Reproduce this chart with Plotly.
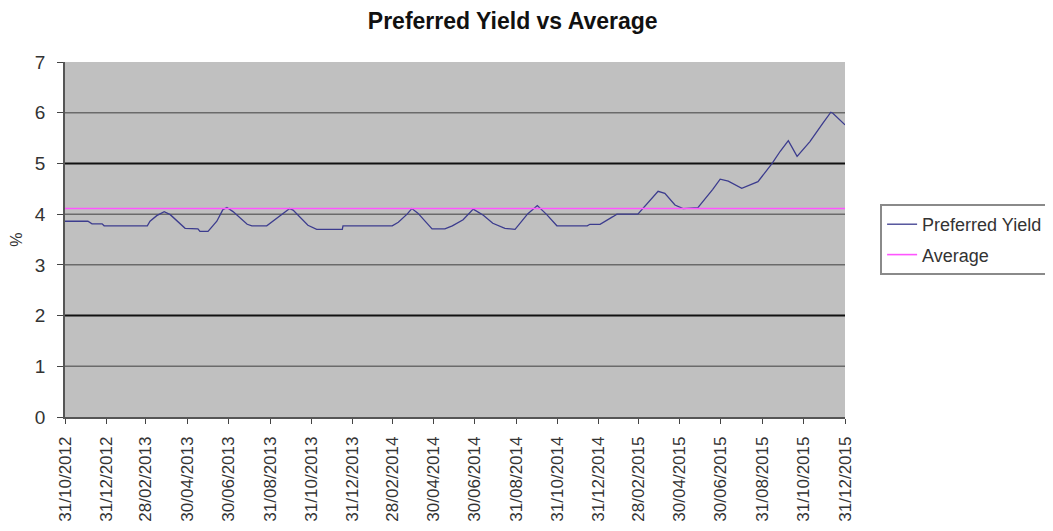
import plotly.graph_objects as go

# ---- data ----
dates = [
    "2012-10-31", "2012-12-04", "2012-12-10", "2012-12-25", "2012-12-28",
    "2013-03-02", "2013-03-06", "2013-03-16", "2013-03-27", "2013-04-05",
    "2013-04-27", "2013-05-16", "2013-05-19", "2013-05-31", "2013-06-13",
    "2013-06-22", "2013-06-28", "2013-07-07", "2013-07-28", "2013-08-04",
    "2013-08-26", "2013-08-31", "2013-09-12", "2013-09-22", "2013-09-29",
    "2013-10-04", "2013-10-14", "2013-10-26", "2013-11-08", "2013-12-16",
    "2013-12-17", "2014-02-28", "2014-03-09", "2014-03-22", "2014-03-29",
    "2014-04-07", "2014-04-28", "2014-05-17", "2014-05-28", "2014-06-13",
    "2014-06-28", "2014-07-13", "2014-07-27", "2014-08-14", "2014-08-29",
    "2014-09-17", "2014-10-01", "2014-10-15", "2014-10-30", "2014-12-14",
    "2014-12-18", "2015-01-02", "2015-01-21", "2015-01-27", "2015-02-27",
    "2015-03-29", "2015-04-08", "2015-04-23", "2015-05-05", "2015-05-27",
    "2015-06-18", "2015-06-29", "2015-07-11", "2015-07-31", "2015-08-24",
    "2015-09-14", "2015-09-26", "2015-10-08", "2015-10-21", "2015-11-09",
    "2015-11-28", "2015-12-10", "2015-12-13", "2015-12-31",
]
preferred_yield = [
    3.86, 3.86, 3.81, 3.81, 3.77,
    3.77, 3.86, 3.97, 4.05, 3.99,
    3.72, 3.71, 3.66, 3.66, 3.86,
    4.09, 4.13, 4.05, 3.80, 3.77,
    3.77, 3.82, 3.95, 4.05, 4.11,
    4.08, 3.95, 3.78, 3.70, 3.70,
    3.77, 3.77, 3.84, 4.00, 4.11,
    4.02, 3.71, 3.71, 3.77, 3.89,
    4.10, 3.98, 3.82, 3.72, 3.70,
    4.01, 4.17, 3.99, 3.77, 3.77,
    3.80, 3.80, 3.95, 4.00, 4.00,
    4.45, 4.41, 4.18, 4.11, 4.13,
    4.49, 4.69, 4.65, 4.51, 4.64,
    5.00, 5.24, 5.45, 5.14, 5.43,
    5.79, 6.01, 5.99, 5.76,
]
average_dates = ["2012-10-31", "2015-12-31"]
average_values = [4.11, 4.11]

tick_dates = [
    "2012-10-31", "2012-12-31", "2013-02-28", "2013-04-30", "2013-06-30",
    "2013-08-31", "2013-10-31", "2013-12-31", "2014-02-28", "2014-04-30",
    "2014-06-30", "2014-08-31", "2014-10-31", "2014-12-31", "2015-02-28",
    "2015-04-30", "2015-06-30", "2015-08-31", "2015-10-31", "2015-12-31",
]
tick_labels = [
    "31/10/2012", "31/12/2012", "28/02/2013", "30/04/2013", "30/06/2013",
    "31/08/2013", "31/10/2013", "31/12/2013", "28/02/2014", "30/04/2014",
    "30/06/2014", "31/08/2014", "31/10/2014", "31/12/2014", "28/02/2015",
    "30/04/2015", "30/06/2015", "31/08/2015", "31/10/2015", "31/12/2015",
]
y_ticks = [0, 1, 2, 3, 4, 5, 6, 7]
grid_light = [1, 3, 4, 6]
grid_dark = [2, 5]

FONT = "Liberation Sans, Arial, sans-serif"

fig = go.Figure()
fig.add_trace(go.Scatter(
    x=dates, y=preferred_yield, mode="lines", name="Preferred Yield",
    line=dict(color="#3c3c8e", width=1.3), legendgroup="a",
))
fig.add_trace(go.Scatter(
    x=average_dates, y=average_values, mode="lines", name="Average",
    line=dict(color="#ff55ff", width=1.6), legendgroup="b",
))

for g in grid_light:
    fig.add_hline(y=g, line=dict(color="#6a6a6a", width=1.5), layer="below")
for g in grid_dark:
    fig.add_hline(y=g, line=dict(color="#111111", width=2), layer="below")

# page body has an 8px margin, so the figure is sized/offset to compensate
fig.update_layout(
    width=1045, height=523,
    margin=dict(l=57, r=208, t=54, b=114, autoexpand=False),
    paper_bgcolor="white", plot_bgcolor="#c0c0c0",
    font=dict(family=FONT, size=18, color="#222222"),
    title=dict(text="<b>Preferred Yield vs Average</b>", x=0.483, xanchor="center",
               y=0.976, yanchor="middle", font=dict(size=23, color="#111111")),
    showlegend=True,
    legend=dict(x=1.045, xanchor="left", y=0.60, yanchor="top",
                bordercolor="#8a8a8a", borderwidth=2, bgcolor="white",
                font=dict(size=18, color="#333333"),
                tracegroupgap=4, traceorder="grouped"),
)
fig.update_xaxes(
    type="date", range=["2012-10-31", "2015-12-31"],
    tickmode="array", tickvals=tick_dates, ticktext=tick_labels,
    tickangle=-90, tickfont=dict(size=17, color="#333333"),
    ticks="outside", ticklen=5, tickcolor="#444444",
    showgrid=False, showline=True, linecolor="#555555", linewidth=1.5,
    ticklabelstandoff=6, zeroline=False, automargin=False,
)
fig.update_yaxes(
    range=[0, 7], tickmode="array", tickvals=y_ticks,
    ticks="outside", ticklen=6, tickcolor="#444444",
    tickfont=dict(size=19, color="#333333"),
    showgrid=False, showline=True, linecolor="#555555", linewidth=1.5,
    zeroline=False, ticklabelstandoff=8, automargin=False,
    title=dict(text="%", font=dict(size=16, color="#333333"), standoff=10),
)

fig.write_html("out.html")
